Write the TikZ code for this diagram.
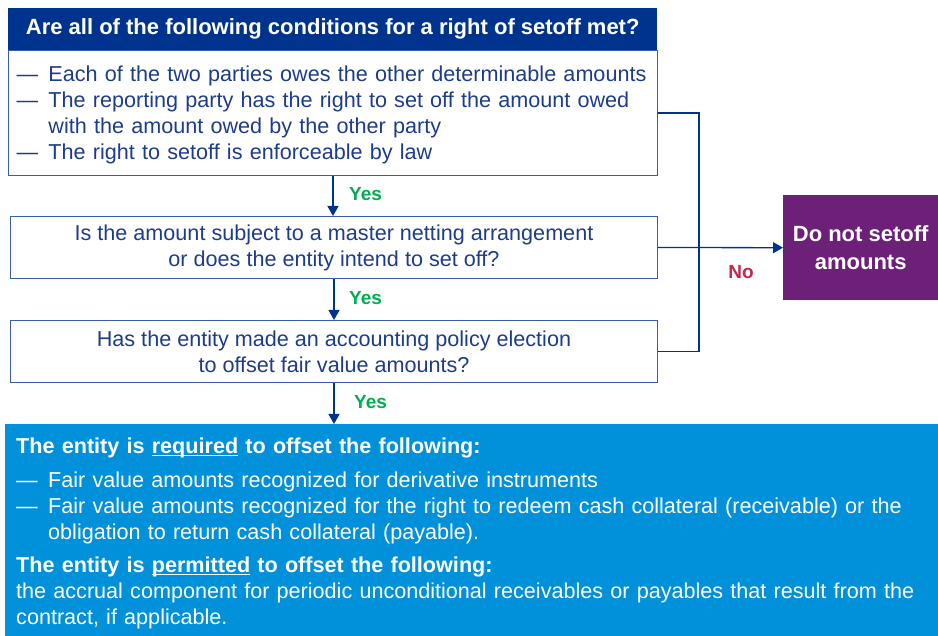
\documentclass[tikz,border=0pt]{standalone}
\usepackage{fontspec}
\setmainfont{Liberation Sans}
\usetikzlibrary{arrows.meta}
\definecolor{kdark}{HTML}{00338D}
\definecolor{kline}{HTML}{3A5DA8}
\definecolor{ktext}{HTML}{1E3C8C}
\definecolor{kblue}{HTML}{0091DA}
\definecolor{kpurple}{HTML}{6D2077}
\definecolor{kgreen}{HTML}{00AD50}
\definecolor{kred}{HTML}{C8254E}
\newcommand\ditem[1]{\par\noindent\hangindent=32pt\hangafter=1\makebox[32pt][l]{—}#1}
\newcommand\uline[1]{\underline{\smash{#1}}}
\begin{document}
\begin{tikzpicture}[x=1pt,y=-1pt,font=\fontsize{21.6}{26}\selectfont]
\useasboundingbox (0,0) rectangle (938,636);
\tikzset{
  qbox/.style={draw=kline, line width=1pt, fill=white, text=ktext, inner sep=0pt, anchor=north west, align=center},
  arr/.style={draw=kdark, line width=1.3pt, -{Triangle[length=10pt,width=11pt]}},
  lnk/.style={draw=kdark, line width=1.3pt},
  yeslab/.style={text=kgreen, font=\fontsize{19}{20}\selectfont\bfseries, anchor=west, inner sep=0pt},
  nolab/.style={text=kred, font=\fontsize{19}{20}\selectfont\bfseries, inner sep=0pt},
}
\node[fill=kdark, text=white, minimum width=649pt, minimum height=42pt, anchor=north west, inner sep=0pt,
  font=\fontsize{22}{24}\selectfont\bfseries] (hd) at (8,8) {Are all of the following conditions for a right of setoff met?};
\node[qbox, minimum height=125pt, text width=633pt, inner xsep=8pt, align=left] (b1) at (8,50) {%
\ditem{\mbox{Each of the two parties owes the other determinable amounts}}
\ditem{\mbox{The reporting party has the right to set off the amount owed}\newline \mbox{with the amount owed by the other party}}
\ditem{\mbox{The right to setoff is enforceable by law}}\par\vspace*{6pt}};
\node[qbox, minimum width=647pt, minimum height=62pt] (b2) at (10,216) {Is the amount subject to a master netting arrangement\\or does the entity intend to set off?};
\node[qbox, minimum width=647pt, minimum height=62pt] (b3) at (10,320) {Has the entity made an accounting policy election\\to offset fair value amounts?};
\node[fill=kpurple, text=white, minimum width=155pt, minimum height=105pt, anchor=north west, inner sep=0pt, align=center,
  font=\fontsize{22}{28}\selectfont\bfseries] (no) at (783,195) {Do not setoff\\amounts};
\node[fill=kblue, text=white, minimum width=933pt, minimum height=212pt, anchor=north west, inner ysep=0pt, inner xsep=11pt,
  text width=911pt, align=left] (res) at (5,424) {%
\vspace*{-4pt}\par\noindent{\bfseries The entity is \uline{required} to offset the following:}\par\vspace{8pt}
\ditem{\mbox{Fair value amounts recognized for derivative instruments}}
\ditem{\mbox{Fair value amounts recognized for the right to redeem cash collateral (receivable) or the}\newline \mbox{obligation to return cash collateral (payable).}}\par\vspace{7pt}
\noindent{\bfseries The entity is \uline{permitted} to offset the following:}\par
\noindent\mbox{the accrual component for periodic unconditional receivables or payables that result from the}\newline \mbox{contract, if applicable.}};
\draw[arr] (b1.south) -- (b1.south |- b2.north);
\draw[arr] (b2.south) -- (b2.south |- b3.north);
\draw[arr] (b3.south) -- (b3.south |- res.north);
\coordinate (vx) at (699,0);
\draw[lnk] (b1.east) -| (vx |- b3.east) -- (b3.east);
\draw[arr] (b2.east) -- (no.west);
\node[yeslab] (y1) at (349,194) {Yes};
\node[yeslab] (y2) at (349,298) {Yes};
\node[yeslab] (y3) at (354,402) {Yes};
\node[nolab] (nl) at (741,272) {No};
\end{tikzpicture}
\end{document}
